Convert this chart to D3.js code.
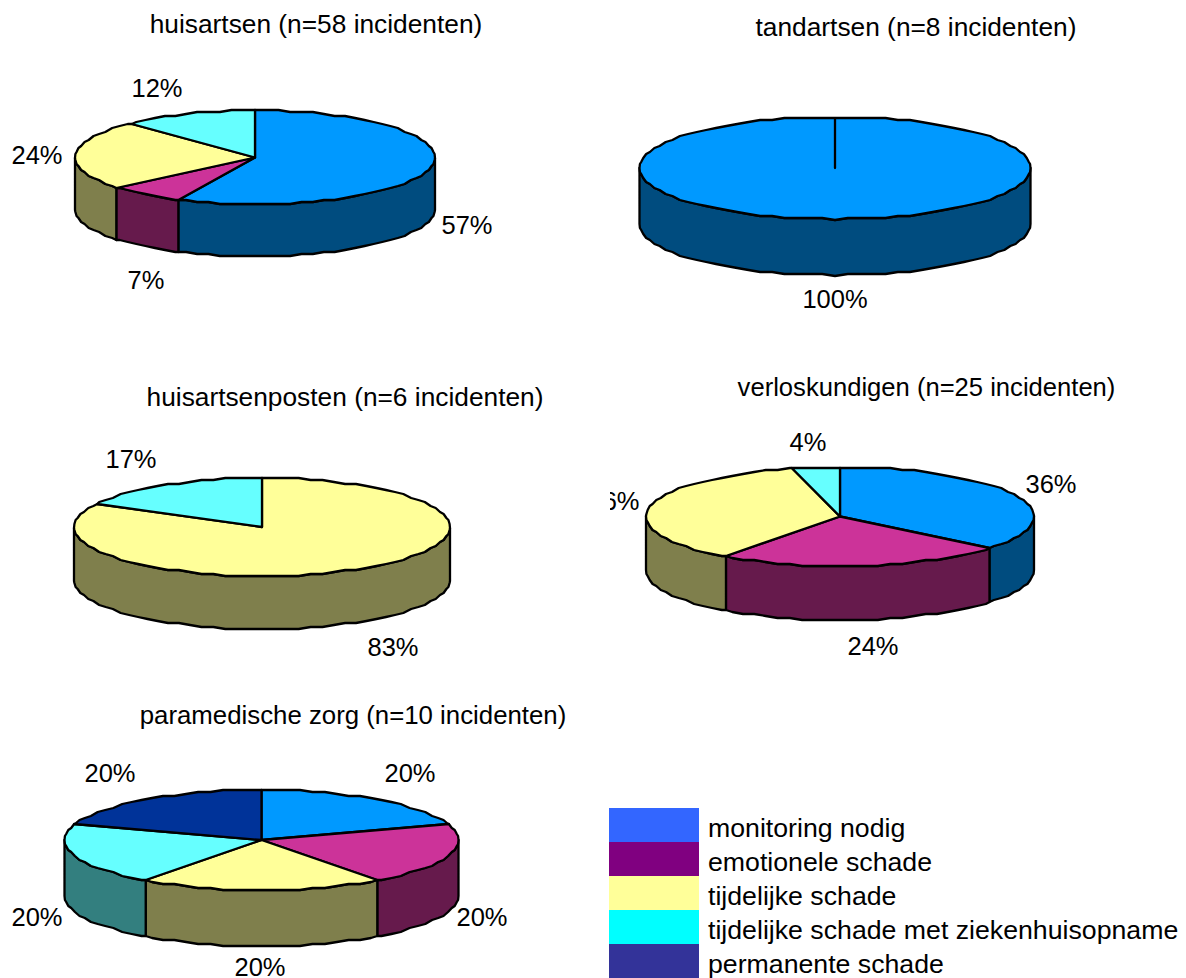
<!DOCTYPE html>
<html>
<head>
<meta charset="utf-8">
<style>
  html, body { margin: 0; padding: 0; background: #fff; }
  svg { display: block; }
  text { font-family: "Liberation Sans", Arial, sans-serif; fill: #000; }
</style>
</head>
<body>
<svg id="chart" width="1186" height="978"></svg>
<script src="https://cdn.jsdelivr.net/npm/d3@7"></script>
<script>
// legend
const categories = ['monitoring nodig', 'emotionele schade', 'tijdelijke schade', 'tijdelijke schade met ziekenhuisopname', 'permanente schade'];

// percentages per chart, same order as categories
const huisartsen = [57, 7, 24, 12];
const tandartsen = [100];
const posten = [83, 17];
const verloskundigen = [36, 24, 36, 4];
const paramedisch = [20, 20, 20, 20, 20];

const titles = [
  'huisartsen (n=58 incidenten)',
  'tandartsen (n=8 incidenten)',
  'huisartsenposten (n=6 incidenten)',
  'verloskundigen (n=25 incidenten)',
  'paramedische zorg (n=10 incidenten)'
];

const topColors = { blue: '#0099ff', magenta: '#cc3399', yellow: '#ffff99', cyan: '#66ffff', navy: '#003399' };
const sideColors = { blue: '#004c7f', magenta: '#661a4c', yellow: '#7f7f4c', cyan: '#337f7f', navy: '#001a4c' };
const legendColors = ['#3366ff', '#800080', '#ffff99', '#00ffff', '#333399'];

const panels = [
  { values: huisartsen, colors: ['blue', 'magenta', 'yellow', 'cyan'],
    cx: 255, cy: 157.5, rx: 180, ry: 47, depth: 52, titleX: 316, titleY: 33, titleSize: 26.3,
    labels: [[467, 234], [146, 289], [37, 164], [157, 97]] },
  { values: tandartsen, colors: ['blue'],
    cx: 835, cy: 168, rx: 195.5, ry: 51, depth: 56, titleX: 916, titleY: 36, titleSize: 26.3,
    labels: [[835, 308]] },
  { values: posten, colors: ['yellow', 'cyan'],
    cx: 262, cy: 527, rx: 188, ry: 49, depth: 53, titleX: 345, titleY: 406, titleSize: 26.3,
    labels: [[393, 656], [131, 468]] },
  { values: verloskundigen, colors: ['blue', 'magenta', 'yellow', 'cyan'],
    cx: 840, cy: 516.5, rx: 194, ry: 49.5, depth: 54, titleX: 926.5, titleY: 396, titleSize: 25.6, clipLeft: 610,
    labels: [[1051, 493], [873, 655], [614, 510], [808, 451]] },
  { values: paramedisch, colors: ['blue', 'magenta', 'yellow', 'cyan', 'navy'],
    cx: 261.5, cy: 840, rx: 197, ry: 50, depth: 56, titleX: 353, titleY: 724, titleSize: 25.8,
    labels: [[410, 782], [482, 926], [260, 976], [37, 926], [110, 782]] }
];

const svg = d3.select('#chart');
const labelSize = 25.5;
const legendSize = 26.7;
const step = Math.PI / 48;

// the original ellipses are lumpy, so sample coarse and snap y
const snap = v => Math.round(v / 2) * 2;

function anglesBetween(a0, a1) {
  const out = [a0];
  for (let a = (Math.floor(a0 / step) + 1) * step; a < a1 - 1e-6; a += step) out.push(a);
  out.push(a1);
  return out;
}

panels.forEach((p, idx) => {
  const g = svg.append('g');
  const x = d3.scaleLinear().domain([-1, 1]).range([p.cx - p.rx, p.cx + p.rx]);
  const y = d3.scaleLinear().domain([-1, 1]).range([p.cy - p.ry, p.cy + p.ry]);
  const onEdge = a => [x(Math.sin(a)), snap(y(-Math.cos(a)))];
  const line = d3.line();

  const arcs = d3.pie().sort(null)(p.values);

  // side walls, only the front half of the disc shows
  arcs.forEach((d, i) => {
    const a0 = Math.max(d.startAngle, Math.PI / 2);
    const a1 = Math.min(d.endAngle, Math.PI * 1.5);
    if (a1 <= a0) return;
    const upper = anglesBetween(a0, a1).map(onEdge);
    const lower = upper.map(pt => [pt[0], pt[1] + p.depth]).reverse();
    g.append('path')
      .attr('d', line(upper.concat(lower)) + 'Z')
      .attr('fill', sideColors[p.colors[i]])
      .attr('stroke', '#000')
      .attr('stroke-width', 2.3)
      .attr('stroke-linejoin', 'round');
  });

  // top face
  arcs.forEach((d, i) => {
    const pts = anglesBetween(d.startAngle, d.endAngle).map(onEdge);
    g.append('path')
      .attr('d', line([[x(0), y(0)]].concat(pts)) + 'Z')
      .attr('fill', topColors[p.colors[i]])
      .attr('stroke', '#000')
      .attr('stroke-width', 2.3)
      .attr('stroke-linejoin', 'round');
  });

  g.append('text')
    .attr('x', p.titleX)
    .attr('y', p.titleY)
    .attr('text-anchor', 'middle')
    .attr('font-size', p.titleSize)
    .text(titles[idx]);

  if (p.clipLeft) {
    svg.append('clipPath').attr('id', 'clip' + idx)
      .append('rect')
      .attr('x', p.clipLeft).attr('y', p.cy - 100)
      .attr('width', 1186 - p.clipLeft).attr('height', 300);
  }

  const labels = g.append('g');
  if (p.clipLeft) labels.attr('clip-path', 'url(#clip' + idx + ')');
  labels.selectAll('text')
    .data(p.values)
    .join('text')
    .attr('x', (d, i) => p.labels[i][0])
    .attr('y', (d, i) => p.labels[i][1])
    .attr('text-anchor', 'middle')
    .attr('font-size', labelSize)
    .text(d => d + '%');
});

// legend
const legendY = d3.scaleBand().domain(categories).range([808, 978]);
const legend = svg.append('g');
legend.selectAll('rect')
  .data(categories)
  .join('rect')
  .attr('x', 609)
  .attr('y', d => legendY(d))
  .attr('width', 90)
  .attr('height', legendY.bandwidth())
  .attr('fill', (d, i) => legendColors[i]);
legend.selectAll('text')
  .data(categories)
  .join('text')
  .attr('x', 708)
  .attr('y', d => legendY(d) + 29)
  .attr('font-size', legendSize)
  .text(d => d);
</script>
</body>
</html>
